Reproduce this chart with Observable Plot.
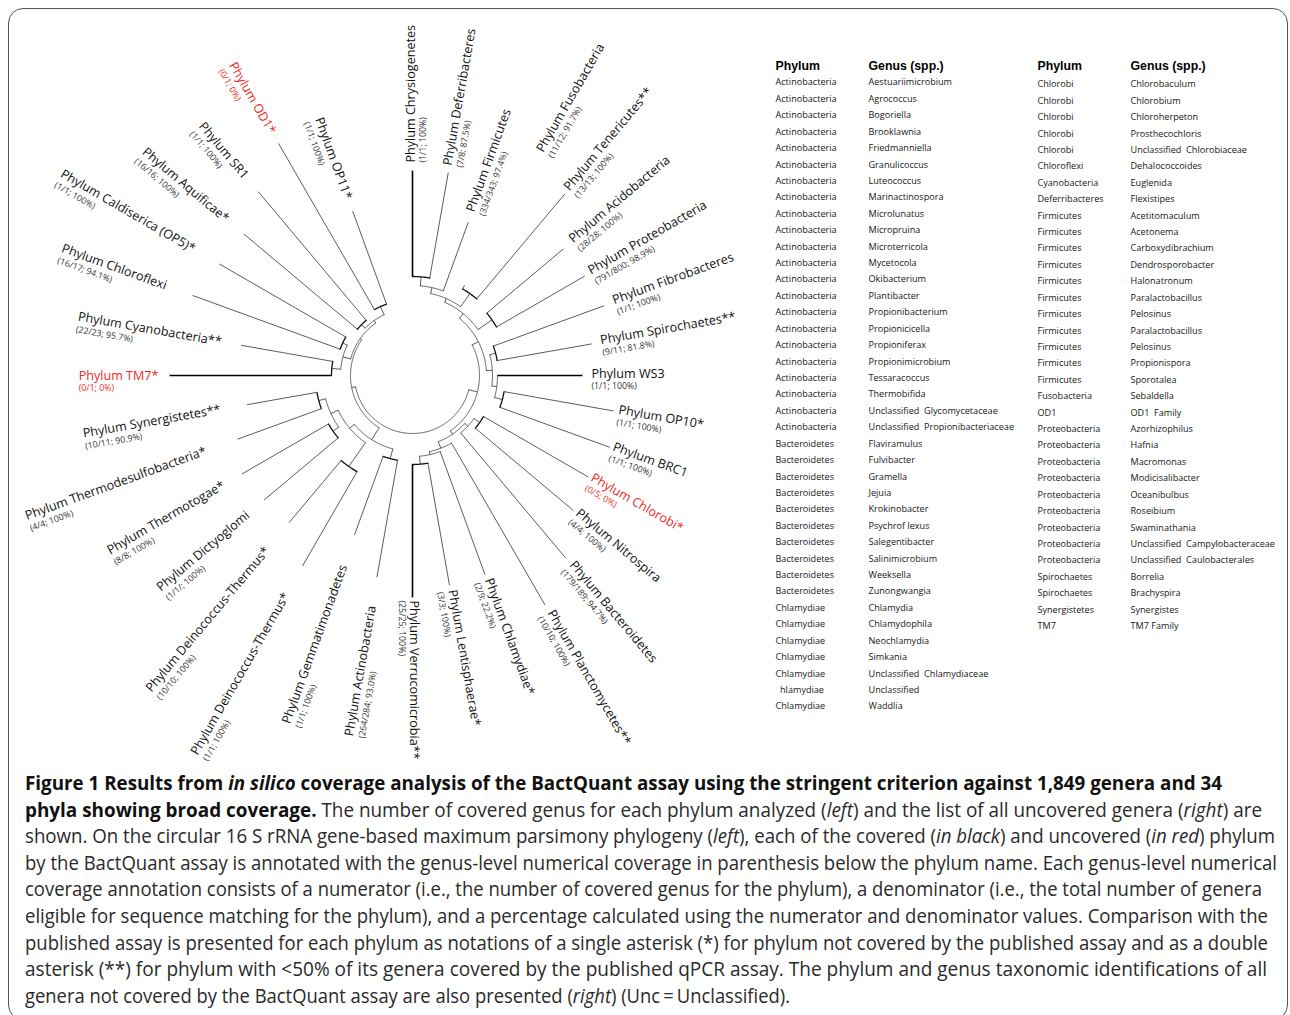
<!DOCTYPE html>
<html><head><meta charset="utf-8">
<script src="https://cdn.jsdelivr.net/npm/d3@7"></script>
<script src="https://cdn.jsdelivr.net/npm/@observablehq/plot@0.6"></script>
<style>
html,body{margin:0;padding:0;background:#fff;width:1290px;height:1015px;overflow:hidden;}
#frame{position:absolute;left:8px;top:8px;width:1280px;height:1012px;border:1.4px solid #555;border-radius:15px;box-sizing:border-box;}
#tree{position:absolute;left:0;top:0;width:760px;height:760px;}
#table{position:absolute;left:760px;top:0;width:530px;height:730px;}
#caption{position:absolute;left:25px;top:770px;font-family:"Open Sans",sans-serif;font-size:20px;line-height:26.6px;color:#2a2a2a;}
#caption div{white-space:nowrap;transform-origin:0 0;width:max-content;}
#caption .b{font-weight:700;color:#111;}
#caption .i{font-style:italic;}
</style></head><body>
<div id="frame"></div>
<div id="tree"></div>
<div id="table"></div>
<div id="caption"></div>
<script>
// ---------------- DATA ----------------
const leafNames = ["Chrysiogenetes","Deferribacteres","Firmicutes","Fusobacteria","Tenericutes**","Acidobacteria","Proteobacteria","Fibrobacteres","Spirochaetes**","WS3","OP10*","BRC1","Chlorobi*","Nitrospira","Bacteroidetes","Planctomycetes**","Chlamydiae*","Lentisphaerae*","Verrucomicrobia**","Actinobacteria","Gemmatimonadetes","Deinococcus-Thermus*","Deinococcus-Thermus*","Dictyoglomi","Thermotogae*","Thermodesulfobacteria*","Synergistetes**","TM7*","Cyanobacteria**","Chloroflexi","Caldiserica (OP5)*","Aquificae*","SR1","OD1*","OP11*"];
const leafCoverage = ["(1/1; 100%)","(7/8; 87.5%)","(334/343; 97.4%)","(11/12; 91.7%)","(13/13; 100%)","(28/28; 100%)","(791/800; 98.9%)","(1/1; 100%)","(9/11; 81.8%)","(1/1; 100%)","(1/1; 100%)","(1/1; 100%)","(0/5; 0%)","(4/4; 100%)","(179/189; 94.7%)","(10/10; 100%)","(2/9; 22.2%)","(3/3; 100%)","(25/25; 100%)","(264/284; 93.0%)","(1/1; 100%)","(1/1; 100%)","(10/10; 100%)","(1/1/; 100%)","(8/8; 100%)","(4/4; 100%)","(10/11; 90.9%)","(0/1; 0%)","(22/23; 95.7%)","(16/17; 94.1%)","(1/1; 100%)","(16/16; 100%)","(1/1; 100%)","(0/1; 0%)","(1/1; 100%)"];
// branch tip distance from centre (tree units)
const leafTipR = [205,206,163,104,237,197,199,204,182,170,204,210,203,210,238,265,212,213,222,205,170,220,192,194,197,186,168,243,174,234,223,220,240,268,175];
// where each annotation sits (tree units)
const leafLabelR = [213,213,174,258,242,208,205,214,191,179,209,213,206,214,246,273,217,218,225,234,202,252,226,215,218,220,195,254,194,262,252,242,259,280,188];
// internal nodes of the phylogeny
const cladeId     = ["c1","c2","c3","c4","c5","c6","c7","c8","c9","c10","c11","c12","c13","c14","c15","c16","c17","c18","c19","c20","c21","c22","c23","c24","c25","c26","c27","c28","c29","c30","c31","c32","c33","root"];
const cladeChildA = [0,"c1",3,"c2",5,"c4",7,10,9,"c7","c6",12,"c12",17,16,15,"c13","c11",19,21,23,25,"c21","c20","c19",27,29,"c26",31,33,"c29","c28","c25","c18"];
const cladeChildB = [1,2,4,"c3",6,"c5",8,11,"c8","c9","c10",13,14,18,"c14","c15","c16","c17",20,22,24,26,"c22","c23","c24",28,30,"c27",32,34,"c30","c31","c32","c33"];
const cladeRadius = [99,90,100,84,97,80,86,93,85,80,74,82,75,89,81,78,71,67,86,111,97,97,90,82,76,81,77,72,72,76,67,64,62,58];

const uncoveredPhylum = ["Actinobacteria","Actinobacteria","Actinobacteria","Actinobacteria","Actinobacteria","Actinobacteria","Actinobacteria","Actinobacteria","Actinobacteria","Actinobacteria","Actinobacteria","Actinobacteria","Actinobacteria","Actinobacteria","Actinobacteria","Actinobacteria","Actinobacteria","Actinobacteria","Actinobacteria","Actinobacteria","Actinobacteria","Actinobacteria","Bacteroidetes","Bacteroidetes","Bacteroidetes","Bacteroidetes","Bacteroidetes","Bacteroidetes","Bacteroidetes","Bacteroidetes","Bacteroidetes","Bacteroidetes","Chlamydiae","Chlamydiae","Chlamydiae","Chlamydiae","Chlamydiae","\u2002hlamydiae","Chlamydiae",
"Chlorobi","Chlorobi","Chlorobi","Chlorobi","Chlorobi","Chloroflexi","Cyanobacteria","Deferribacteres","Firmicutes","Firmicutes","Firmicutes","Firmicutes","Firmicutes","Firmicutes","Firmicutes","Firmicutes","Firmicutes","Firmicutes","Firmicutes","Fusobacteria","OD1","Proteobacteria","Proteobacteria","Proteobacteria","Proteobacteria","Proteobacteria","Proteobacteria","Proteobacteria","Proteobacteria","Proteobacteria","Spirochaetes","Spirochaetes","Synergistetes","TM7"];
const uncoveredGenus = ["Aestuariimicrobium","Agrococcus","Bogoriella","Brooklawnia","Friedmanniella","Granulicoccus","Luteococcus","Marinactinospora","Microlunatus","Micropruina","Microterricola","Mycetocola","Okibacterium","Plantibacter","Propionibacterium","Propionicicella","Propioniferax","Propionimicrobium","Tessaracoccus","Thermobifida","Unclassified\u00a0 Glycomycetaceae","Unclassified\u00a0 Propionibacteriaceae","Flaviramulus","Fulvibacter","Gramella","Jejuia","Krokinobacter","Psychrof lexus","Salegentibacter","Salinimicrobium","Weeksella","Zunongwangia","Chlamydia","Chlamydophila","Neochlamydia","Simkania","Unclassified\u00a0 Chlamydiaceae","Unclassified","Waddlia",
"Chlorobaculum","Chlorobium","Chloroherpeton","Prosthecochloris","Unclassified\u00a0 Chlorobiaceae","Dehalococcoides","Euglenida","Flexistipes","Acetitomaculum","Acetonema","Carboxydibrachium","Dendrosporobacter","Halonatronum","Paralactobacillus","Pelosinus","Paralactobacillus","Pelosinus","Propionispora","Sporotalea","Sebaldella","OD1\u00a0 Family","Azorhizophilus","Hafnia","Macromonas","Modicisalibacter","Oceanibulbus","Roseibium","Swaminathania","Unclassified\u00a0 Campylobacteraceae","Unclassified\u00a0 Caulobacterales","Borrelia","Brachyspira","Synergistes","TM7 Family"];
const tableHeaders = ["Phylum","Genus (spp.)","Phylum","Genus (spp.)"];

const captionLines = [
 [["Figure 1 Results from ","b"],["in silico","b i"],[" coverage analysis of the BactQuant assay using the stringent criterion against 1,849 genera and 34","b"]],
 [["phyla showing broad coverage.","b"],[" The number of covered genus for each phylum analyzed (",""],["left","i"],[") and the list of all uncovered genera (",""],["right","i"],[") are",""]],
 [["shown. On the circular 16 S rRNA gene-based maximum parsimony phylogeny (",""],["left","i"],["), each of the covered (",""],["in black","i"],[") and uncovered (",""],["in red","i"],[") phylum",""]],
 [["by the BactQuant assay is annotated with the genus-level numerical coverage in parenthesis below the phylum name. Each genus-level numerical",""]],
 [["coverage annotation consists of a numerator (i.e., the number of covered genus for the phylum), a denominator (i.e., the total number of genera",""]],
 [["eligible for sequence matching for the phylum), and a percentage calculated using the numerator and denominator values. Comparison with the",""]],
 [["published assay is presented for each phylum as notations of a single asterisk (*) for phylum not covered by the published assay and as a double",""]],
 [["asterisk (**) for phylum with <50% of its genera covered by the published qPCR assay. The phylum and genus taxonomic identifications of all",""]],
 [["genera not covered by the BactQuant assay are also presented (",""],["right","i"],[") (Unc\u2009=\u2009Unclassified).",""]]
];

// ---------------- LAYOUT / STYLE ----------------
const RED = "#ee2a24";
const CX = 412, CY = 375, TW = 760, TH = 760;
const boldLeaves = new Set([0, 9, 18, 27]);
const rad = a => a * Math.PI / 180;
const polar = (a, r) => [r * Math.sin(rad(a)), -r * Math.cos(rad(a))];
const slots = 36; // leaves are placed on evenly spaced slots like a cluster layout
const leafAngle = i => i * 360 / slots;
const cIdx = new Map(cladeId.map((id, i) => [id, i]));
const angleOf = n => typeof n === "number" ? leafAngle(n) : (angleOf(cladeChildA[cIdx.get(n)]) + angleOf(cladeChildB[cIdx.get(n)])) / 2;
const radiusOf = n => typeof n === "number" ? leafTipR[n] : cladeRadius[cIdx.get(n)];

const arcPts = [];
const radials = [];
cladeId.forEach((id, i) => {
  const a0 = angleOf(cladeChildA[i]), a1 = angleOf(cladeChildB[i]);
  const lo = Math.min(a0, a1), hi = Math.max(a0, a1);
  const n = Math.max(2, Math.ceil(hi - lo) * 2 + 1);
  for (let k = 0; k < n; k++) {
    const [x, y] = polar(lo + (hi - lo) * k / (n - 1), cladeRadius[i]);
    arcPts.push({id, x, y, cherry: typeof cladeChildA[i] === "number" && typeof cladeChildB[i] === "number"});
  }
  for (const c of [cladeChildA[i], cladeChildB[i]]) {
    const a = angleOf(c);
    const [x1, y1] = polar(a, cladeRadius[i]);
    const [x2, y2] = polar(a, radiusOf(c));
    radials.push({x1, y1, x2, y2, bold: typeof c === "number" && boldLeaves.has(c)});
  }
});

const nameFont = 12.6, covFont = 8.8;
const ctx = document.createElement("canvas").getContext("2d");
ctx.font = `${nameFont}px "Open Sans"`;
const labels = leafNames.map((nm, i) => {
  const a = leafAngle(i), right = a <= 180;
  const s = Math.sin(rad(a)), c = Math.cos(rad(a));
  const [px, py] = polar(a, leafLabelR[i]);
  const text = "Phylum " + nm;
  const red = leafCoverage[i].startsWith("(0/");
  const col = red ? RED : "#111", col2 = red ? RED : "#333";
  if (right) {
    const dn = [c, s];
    return {right, rot: a - 90, col, col2, text, cov: leafCoverage[i],
      nx: px - 2 * dn[0], ny: py - 2 * dn[1], cx: px + 10.5 * dn[0], cy: py + 10.5 * dn[1]};
  } else {
    const dir = [-s, c], dn = [-c, -s];
    const w = ctx.measureText(text).width;
    return {right, rot: a - 270, col, col2, text, cov: leafCoverage[i],
      nx: px, ny: py, cx: px - w * dir[0] + 13 * dn[0], cy: py - w * dir[1] + 13 * dn[1]};
  }
});

const tree = Plot.plot({
  width: TW, height: TH, margin: 0,
  x: {domain: [-CX, TW - CX], range: [0, TW], axis: null},
  y: {domain: [-CY, TH - CY], range: [0, TH], axis: null},
  color: {type: "identity"},
  style: {fontFamily: '"Open Sans", sans-serif', background: "transparent", overflow: "visible"},
  marks: [
    Plot.line(arcPts.filter(d => !d.cherry), {x: "x", y: "y", z: "id", stroke: "#333", strokeWidth: 0.8}),
    Plot.line(arcPts.filter(d => d.cherry), {x: "x", y: "y", z: "id", stroke: "#111", strokeWidth: 1.3}),
    Plot.link(radials.filter(d => !d.bold), {x1: "x1", y1: "y1", x2: "x2", y2: "y2", stroke: "#333", strokeWidth: 0.8}),
    Plot.link(radials.filter(d => d.bold), {x1: "x1", y1: "y1", x2: "x2", y2: "y2", stroke: "#000", strokeWidth: 1.6}),
    Plot.text(labels.filter(d => d.right), {x: "nx", y: "ny", text: "text", rotate: "rot", fill: "col", textAnchor: "start", lineAnchor: "middle", fontSize: nameFont}),
    Plot.text(labels.filter(d => !d.right), {x: "nx", y: "ny", text: "text", rotate: "rot", fill: "col", textAnchor: "end", lineAnchor: "middle", fontSize: nameFont}),
    Plot.text(labels, {x: "cx", y: "cy", text: "cov", rotate: "rot", fill: "col2", textAnchor: "start", lineAnchor: "middle", fontSize: covFont})
  ]
});
document.getElementById("tree").appendChild(tree);

// ---------------- TABLE ----------------
const rowsPerColumn = 39;
const colPhylumX = [15, 277], colGenusX = [108, 370];
const rows = uncoveredPhylum.map((p, i) => {
  const col = i < rowsPerColumn ? 0 : 1;
  return {p, g: uncoveredGenus[i], col, row: col ? i - rowsPerColumn : i, px: colPhylumX[col], gx: colGenusX[col]};
});
const heads = tableHeaders.map((t, i) => ({t, col: i >> 1, x: i % 2 ? colGenusX[i >> 1] : colPhylumX[i >> 1]}));
const txt = {textAnchor: "start", lineAnchor: "middle", fontSize: 9.1, fill: "#161616"};
const table = Plot.plot({
  width: 530, height: 730, margin: 0,
  x: {domain: [0, 530], range: [0, 530], axis: null},
  y: {domain: [-1, 38], range: [65.6, 706], axis: null},
  style: {fontFamily: '"Open Sans", sans-serif', background: "transparent"},
  marks: [
    Plot.text(heads, {x: "x", y: () => -1, text: "t", textAnchor: "start", lineAnchor: "middle", fontSize: 12.3, fontWeight: "bold", fontFamily: '"Liberation Sans", Arial, sans-serif', fill: "#000"}),
    Plot.text(rows.filter(d => d.col === 0), {x: "px", y: "row", text: "p", ...txt}),
    Plot.text(rows.filter(d => d.col === 0), {x: "gx", y: "row", text: "g", ...txt}),
    Plot.text(rows.filter(d => d.col === 1), {x: "px", y: "row", text: "p", dy: 1.8, ...txt}),
    Plot.text(rows.filter(d => d.col === 1), {x: "gx", y: "row", text: "g", dy: 1.8, ...txt})
  ]
});
document.getElementById("table").appendChild(table);

// ---------------- CAPTION ----------------
const captionRight = [1222, 1262, 1275, 1277, 1262, 1268, 1268, 1267, 790];
const cap = document.getElementById("caption");
captionLines.forEach((segs, li) => {
  const div = document.createElement("div");
  segs.forEach(([t, cls]) => {
    const sp = document.createElement("span");
    if (cls) sp.className = cls;
    sp.textContent = t;
    div.appendChild(sp);
  });
  cap.appendChild(div);
  const w = div.getBoundingClientRect().width;
  div.style.transform = `scaleX(${(captionRight[li] - 25) / w})`;
});
</script>
</body></html>
